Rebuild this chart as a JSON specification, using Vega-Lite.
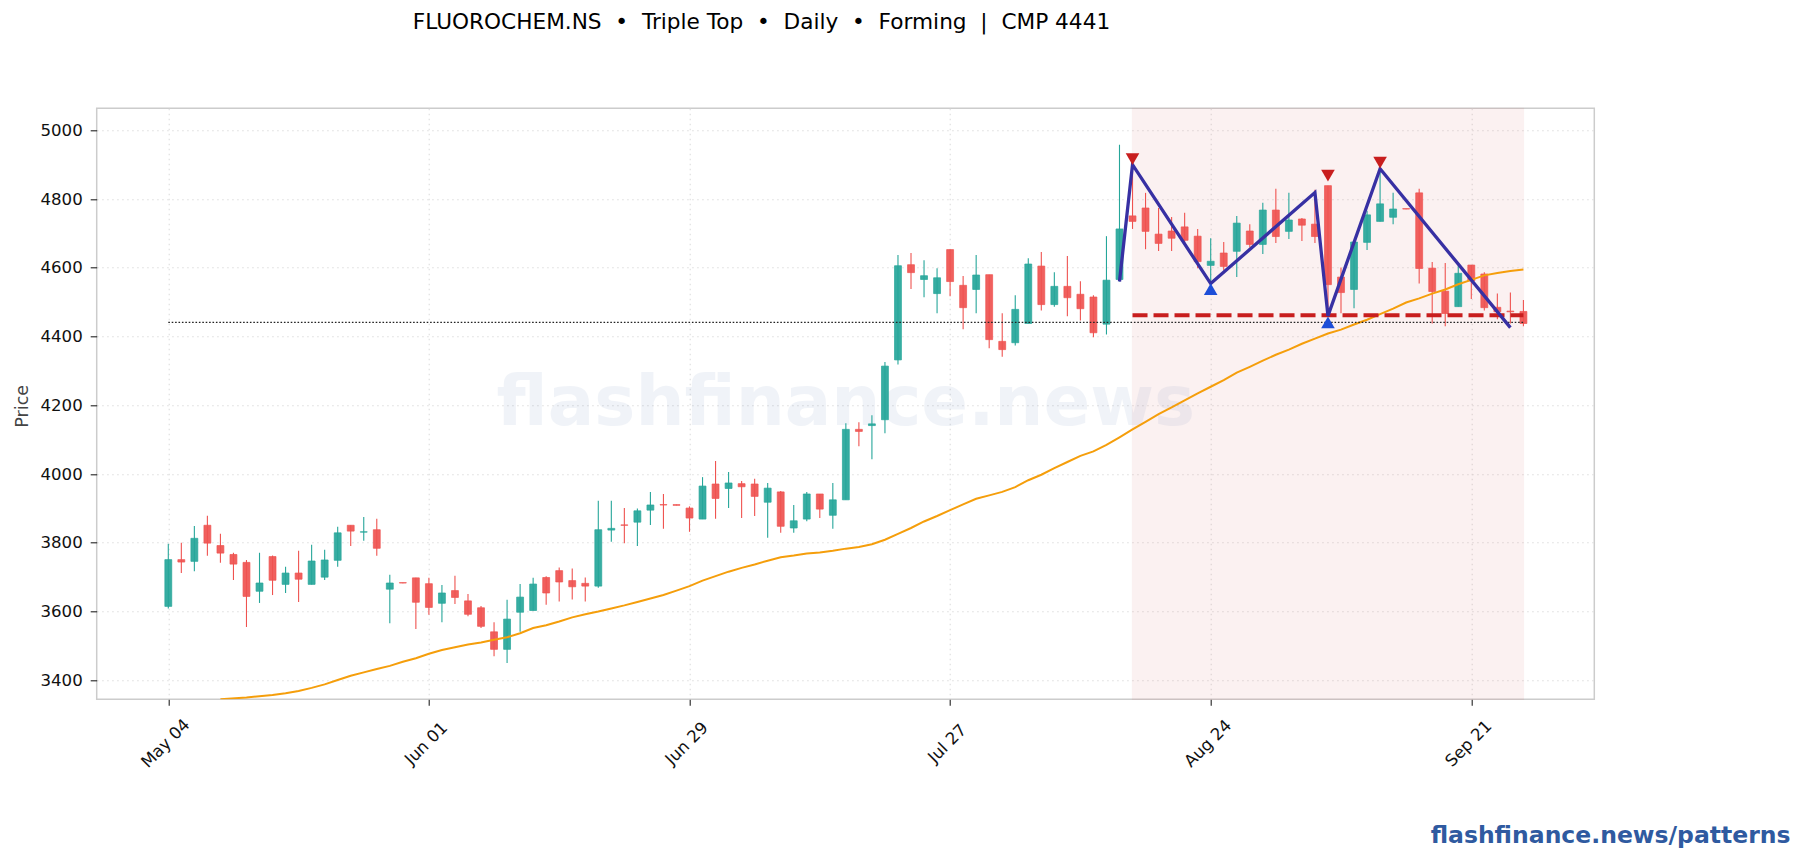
{
"$schema":"https://vega.github.io/schema/vega-lite/v6.json",
"width":1497.6,"height":591,
"autosize":{"type":"none"},
"padding":{"left":96.7,"top":108.3,"right":209.7,"bottom":160.7},
"background":"white",
"title":{"text":"FLUOROCHEM.NS\u00a0\u00a0•\u00a0\u00a0Triple Top\u00a0\u00a0•\u00a0\u00a0Daily\u00a0\u00a0•\u00a0\u00a0Forming\u00a0\u00a0|\u00a0\u00a0CMP 4441","font":"DejaVu Sans","fontSize":21.65,"fontWeight":"normal","color":"#000000","anchor":"start","frame":"group","dx":316,"dy":-57,"baseline":"alphabetic","offset":0},
"config":{"font":"DejaVu Sans","view":{"stroke":"#cccccc","strokeWidth":1.5}},
"datasets":{
"candles":[
{"i":0,"open":3615,"high":3797,"low":3609,"close":3751,"dir":"up"},
{"i":1,"open":3751,"high":3800,"low":3712,"close":3744,"dir":"down"},
{"i":2,"open":3746,"high":3849,"low":3717,"close":3813,"dir":"up"},
{"i":3,"open":3851,"high":3879,"low":3762,"close":3799,"dir":"down"},
{"i":4,"open":3792,"high":3826,"low":3742,"close":3770,"dir":"down"},
{"i":5,"open":3766,"high":3771,"low":3692,"close":3738,"dir":"down"},
{"i":6,"open":3743,"high":3750,"low":3555,"close":3644,"dir":"down"},
{"i":7,"open":3659,"high":3771,"low":3625,"close":3683,"dir":"up"},
{"i":8,"open":3760,"high":3763,"low":3648,"close":3691,"dir":"down"},
{"i":9,"open":3679,"high":3730,"low":3654,"close":3712,"dir":"up"},
{"i":10,"open":3712,"high":3777,"low":3628,"close":3694,"dir":"down"},
{"i":11,"open":3679,"high":3794,"low":3679,"close":3747,"dir":"up"},
{"i":12,"open":3700,"high":3780,"low":3692,"close":3750,"dir":"up"},
{"i":13,"open":3749,"high":3847,"low":3730,"close":3829,"dir":"up"},
{"i":14,"open":3851,"high":3851,"low":3791,"close":3834,"dir":"down"},
{"i":15,"open":3831,"high":3875,"low":3806,"close":3832,"dir":"up"},
{"i":16,"open":3838,"high":3870,"low":3762,"close":3784,"dir":"down"},
{"i":17,"open":3665,"high":3707,"low":3566,"close":3683,"dir":"up"},
{"i":18,"open":3684,"high":3684,"low":3682,"close":3683,"dir":"down"},
{"i":19,"open":3698,"high":3698,"low":3549,"close":3627,"dir":"down"},
{"i":20,"open":3681,"high":3698,"low":3591,"close":3612,"dir":"down"},
{"i":21,"open":3624,"high":3677,"low":3569,"close":3654,"dir":"up"},
{"i":22,"open":3661,"high":3704,"low":3622,"close":3641,"dir":"down"},
{"i":23,"open":3631,"high":3651,"low":3586,"close":3592,"dir":"down"},
{"i":24,"open":3611,"high":3616,"low":3552,"close":3557,"dir":"down"},
{"i":25,"open":3541,"high":3569,"low":3470,"close":3490,"dir":"down"},
{"i":26,"open":3490,"high":3634,"low":3450,"close":3578,"dir":"up"},
{"i":27,"open":3598,"high":3680,"low":3541,"close":3642,"dir":"up"},
{"i":28,"open":3603,"high":3698,"low":3603,"close":3680,"dir":"up"},
{"i":29,"open":3699,"high":3703,"low":3620,"close":3654,"dir":"down"},
{"i":30,"open":3719,"high":3728,"low":3629,"close":3686,"dir":"down"},
{"i":31,"open":3690,"high":3725,"low":3635,"close":3672,"dir":"down"},
{"i":32,"open":3682,"high":3699,"low":3629,"close":3674,"dir":"down"},
{"i":33,"open":3674,"high":3922,"low":3669,"close":3838,"dir":"up"},
{"i":34,"open":3837,"high":3922,"low":3803,"close":3842,"dir":"up"},
{"i":35,"open":3852,"high":3901,"low":3799,"close":3851,"dir":"down"},
{"i":36,"open":3860,"high":3900,"low":3791,"close":3893,"dir":"up"},
{"i":37,"open":3895,"high":3948,"low":3852,"close":3910,"dir":"up"},
{"i":38,"open":3911,"high":3942,"low":3841,"close":3910,"dir":"down"},
{"i":39,"open":3911,"high":3911,"low":3909,"close":3909,"dir":"down"},
{"i":40,"open":3901,"high":3906,"low":3832,"close":3872,"dir":"down"},
{"i":41,"open":3869,"high":3991,"low":3869,"close":3965,"dir":"up"},
{"i":42,"open":3971,"high":4038,"low":3870,"close":3929,"dir":"down"},
{"i":43,"open":3958,"high":4006,"low":3901,"close":3974,"dir":"up"},
{"i":44,"open":3972,"high":3980,"low":3872,"close":3963,"dir":"down"},
{"i":45,"open":3971,"high":3986,"low":3878,"close":3935,"dir":"down"},
{"i":46,"open":3918,"high":3974,"low":3815,"close":3959,"dir":"up"},
{"i":47,"open":3948,"high":3951,"low":3829,"close":3848,"dir":"down"},
{"i":48,"open":3843,"high":3910,"low":3829,"close":3864,"dir":"up"},
{"i":49,"open":3869,"high":3948,"low":3863,"close":3942,"dir":"up"},
{"i":50,"open":3942,"high":3942,"low":3872,"close":3898,"dir":"down"},
{"i":51,"open":3880,"high":3974,"low":3841,"close":3925,"dir":"up"},
{"i":52,"open":3925,"high":4148,"low":3925,"close":4130,"dir":"up"},
{"i":53,"open":4130,"high":4151,"low":4081,"close":4124,"dir":"down"},
{"i":54,"open":4141,"high":4171,"low":4043,"close":4146,"dir":"up"},
{"i":55,"open":4158,"high":4326,"low":4119,"close":4314,"dir":"up"},
{"i":56,"open":4332,"high":4637,"low":4319,"close":4606,"dir":"up"},
{"i":57,"open":4609,"high":4643,"low":4538,"close":4586,"dir":"down"},
{"i":58,"open":4566,"high":4622,"low":4514,"close":4577,"dir":"up"},
{"i":59,"open":4525,"high":4599,"low":4468,"close":4571,"dir":"up"},
{"i":60,"open":4653,"high":4653,"low":4517,"close":4560,"dir":"down"},
{"i":61,"open":4549,"high":4576,"low":4421,"close":4484,"dir":"down"},
{"i":62,"open":4537,"high":4637,"low":4468,"close":4579,"dir":"up"},
{"i":63,"open":4580,"high":4580,"low":4366,"close":4391,"dir":"down"},
{"i":64,"open":4386,"high":4468,"low":4341,"close":4362,"dir":"down"},
{"i":65,"open":4382,"high":4520,"low":4374,"close":4479,"dir":"up"},
{"i":66,"open":4438,"high":4628,"low":4438,"close":4611,"dir":"up"},
{"i":67,"open":4605,"high":4646,"low":4476,"close":4493,"dir":"down"},
{"i":68,"open":4493,"high":4587,"low":4487,"close":4546,"dir":"up"},
{"i":69,"open":4546,"high":4634,"low":4459,"close":4513,"dir":"down"},
{"i":70,"open":4523,"high":4561,"low":4447,"close":4481,"dir":"down"},
{"i":71,"open":4515,"high":4520,"low":4398,"close":4411,"dir":"down"},
{"i":72,"open":4436,"high":4692,"low":4406,"close":4564,"dir":"up"},
{"i":73,"open":4566,"high":4958,"low":4560,"close":4713,"dir":"up"},
{"i":74,"open":4751,"high":4903,"low":4713,"close":4735,"dir":"down"},
{"i":75,"open":4774,"high":4818,"low":4654,"close":4706,"dir":"down"},
{"i":76,"open":4698,"high":4774,"low":4649,"close":4671,"dir":"down"},
{"i":77,"open":4707,"high":4748,"low":4649,"close":4686,"dir":"down"},
{"i":78,"open":4719,"high":4760,"low":4672,"close":4680,"dir":"down"},
{"i":79,"open":4692,"high":4713,"low":4599,"close":4618,"dir":"down"},
{"i":80,"open":4607,"high":4686,"low":4552,"close":4619,"dir":"up"},
{"i":81,"open":4643,"high":4675,"low":4593,"close":4604,"dir":"down"},
{"i":82,"open":4648,"high":4751,"low":4573,"close":4730,"dir":"up"},
{"i":83,"open":4707,"high":4727,"low":4659,"close":4668,"dir":"down"},
{"i":84,"open":4668,"high":4789,"low":4640,"close":4768,"dir":"up"},
{"i":85,"open":4768,"high":4830,"low":4672,"close":4691,"dir":"down"},
{"i":86,"open":4706,"high":4818,"low":4684,"close":4739,"dir":"up"},
{"i":87,"open":4742,"high":4745,"low":4678,"close":4724,"dir":"down"},
{"i":88,"open":4727,"high":4827,"low":4672,"close":4691,"dir":"down"},
{"i":89,"open":4839,"high":4839,"low":4470,"close":4551,"dir":"down"},
{"i":90,"open":4573,"high":4601,"low":4468,"close":4528,"dir":"down"},
{"i":91,"open":4537,"high":4675,"low":4482,"close":4675,"dir":"up"},
{"i":92,"open":4674,"high":4766,"low":4652,"close":4754,"dir":"up"},
{"i":93,"open":4735,"high":4888,"low":4735,"close":4786,"dir":"up"},
{"i":94,"open":4747,"high":4818,"low":4727,"close":4771,"dir":"up"},
{"i":95,"open":4772,"high":4772,"low":4770,"close":4771,"dir":"down"},
{"i":96,"open":4818,"high":4830,"low":4554,"close":4598,"dir":"down"},
{"i":97,"open":4599,"high":4617,"low":4438,"close":4531,"dir":"down"},
{"i":98,"open":4532,"high":4614,"low":4430,"close":4467,"dir":"down"},
{"i":99,"open":4487,"high":4606,"low":4487,"close":4584,"dir":"up"},
{"i":100,"open":4608,"high":4608,"low":4509,"close":4562,"dir":"down"},
{"i":101,"open":4582,"high":4587,"low":4476,"close":4484,"dir":"down"},
{"i":102,"open":4485,"high":4525,"low":4450,"close":4472,"dir":"down"},
{"i":103,"open":4474,"high":4528,"low":4438,"close":4472,"dir":"down"},
{"i":104,"open":4473,"high":4506,"low":4430,"close":4438,"dir":"down"}
],
"ema":[
{"i":4,"ema":3345},{"i":6,"ema":3350},{"i":8,"ema":3357},{"i":9,"ema":3362},{"i":10,"ema":3369},{"i":11,"ema":3378},{"i":12,"ema":3388},{"i":13,"ema":3401},{"i":14,"ema":3413},{"i":15,"ema":3423},{"i":16,"ema":3433},{"i":17,"ema":3442},{"i":18,"ema":3454},{"i":19,"ema":3464},{"i":20,"ema":3477},{"i":21,"ema":3488},{"i":22,"ema":3496},{"i":23,"ema":3504},{"i":24,"ema":3510},{"i":25,"ema":3518},{"i":26,"ema":3525},{"i":27,"ema":3537},{"i":28,"ema":3552},{"i":29,"ema":3560},{"i":30,"ema":3571},{"i":31,"ema":3583},{"i":32,"ema":3592},{"i":33,"ema":3600},{"i":34,"ema":3609},{"i":35,"ema":3618},{"i":36,"ema":3628},{"i":37,"ema":3638},{"i":38,"ema":3648},{"i":39,"ema":3661},{"i":40,"ema":3674},{"i":41,"ema":3690},{"i":42,"ema":3703},{"i":43,"ema":3716},{"i":44,"ema":3727},{"i":45,"ema":3737},{"i":46,"ema":3748},{"i":47,"ema":3758},{"i":48,"ema":3763},{"i":49,"ema":3769},{"i":50,"ema":3772},{"i":51,"ema":3777},{"i":52,"ema":3783},{"i":53,"ema":3788},{"i":54,"ema":3796},{"i":55,"ema":3809},{"i":56,"ema":3826},{"i":57,"ema":3843},{"i":58,"ema":3862},{"i":59,"ema":3878},{"i":60,"ema":3895},{"i":61,"ema":3912},{"i":62,"ema":3928},{"i":63,"ema":3938},{"i":64,"ema":3948},{"i":65,"ema":3962},{"i":66,"ema":3982},{"i":67,"ema":3998},{"i":68,"ema":4017},{"i":69,"ema":4035},{"i":70,"ema":4053},{"i":71,"ema":4066},{"i":72,"ema":4085},{"i":73,"ema":4107},{"i":74,"ema":4130},{"i":75,"ema":4152},{"i":76,"ema":4174},{"i":77,"ema":4194},{"i":78,"ema":4214},{"i":79,"ema":4235},{"i":80,"ema":4254},{"i":81,"ema":4273},{"i":82,"ema":4295},{"i":83,"ema":4312},{"i":84,"ema":4330},{"i":85,"ema":4347},{"i":86,"ema":4362},{"i":87,"ema":4379},{"i":88,"ema":4394},{"i":89,"ema":4409},{"i":90,"ema":4420},{"i":91,"ema":4435},{"i":92,"ema":4449},{"i":93,"ema":4465},{"i":94,"ema":4481},{"i":95,"ema":4499},{"i":96,"ema":4511},{"i":97,"ema":4525},{"i":98,"ema":4537},{"i":99,"ema":4552},{"i":100,"ema":4565},{"i":101,"ema":4578},{"i":102,"ema":4585},{"i":103,"ema":4591},{"i":104,"ema":4595}
],
"pattern":[{"i":73,"price":4560},{"i":74,"price":4900},{"i":80,"price":4554},{"i":88,"price":4819},{"i":89,"price":4460},{"i":93,"price":4888},{"i":103,"price":4426}],
"markers":[{"i":74,"price":4916,"kind":"peak"},{"i":89,"price":4868,"kind":"peak"},{"i":93,"price":4906,"kind":"peak"},{"i":80,"price":4538,"kind":"trough"},{"i":89,"price":4441,"kind":"trough"}],
"zone":[{"start":74,"end":104,"neckline":4462}],
"cmp":[{"start":0,"end":104,"price":4441.5}],
"mark":[{"i":52,"price":4205,"label":"flashfinance.news"}]
},
"layer":[
{"data":{"name":"mark"},"mark":{"type":"text","font":"DejaVu Sans","fontWeight":"bold","fontSize":69,"color":"#2f5aa0","opacity":0.065,"align":"center","baseline":"middle"},
"encoding":{"x":{"field":"i","type":"quantitative","scale":{"domain":[-5.495,109.44],"nice":false,"zero":false,"padding":0},
"axis":{"values":[0,20,40,60,80,100],"labelExpr":"['May 04','Jun 01','Jun 29','Jul 27','Aug 24','Sep 21'][datum.value/20]","labelAngle":-45,"labelAlign":"center","labelBaseline":"middle","labelPadding":38,"labelOffset":-3,"labelFontSize":16.6,"labelColor":"#111111","tickSize":6,"tickColor":"#222222","tickWidth":1.1,"domain":false,"grid":true,"gridColor":"#dddddd","gridDash":[1.5,3.5],"gridWidth":1.1,"labelOverlap":false,"labelBound":false,"labelFlush":false,"title":"flashfinance.news/patterns","titleFont":"DejaVu Sans","titleFontSize":23.5,"titleFontWeight":"bold","titleColor":"#2f5aa0","titleAlign":"right","titleAnchor":"end","titleBaseline":"alphabetic","titleX":1693.3,"titleY":143.4}},
"y":{"field":"price","type":"quantitative","scale":{"domain":[3344.7,5064],"nice":false,"zero":false,"padding":0},
"axis":{"values":[3400,3600,3800,4000,4200,4400,4600,4800,5000],"format":"d","labelFontSize":16.6,"labelColor":"#111111","labelPadding":8,"tickSize":6.5,"tickColor":"#222222","tickWidth":1.1,"domain":false,"grid":true,"gridColor":"#dddddd","gridDash":[1.5,3.5],"gridWidth":1.1,"title":"Price","titleFont":"DejaVu Sans","titleFontSize":17.5,"titleFontWeight":"normal","titleColor":"#444444","titleX":-65,"titleY":297.5}},
"text":{"field":"label","type":"nominal"}}},
{"data":{"name":"zone"},"mark":{"type":"rect","color":"#c81e1e","opacity":0.055,"stroke":"#c81e1e","strokeWidth":1.2},
"encoding":{"x":{"field":"start","type":"quantitative"},"x2":{"field":"end"}}},
{"data":{"name":"candles"},"mark":{"type":"rule","strokeWidth":1.1},
"encoding":{"x":{"field":"i","type":"quantitative"},"y":{"field":"low","type":"quantitative"},"y2":{"field":"high"},
"color":{"field":"dir","type":"nominal","legend":null,"scale":{"domain":["up","down"],"range":["#26a69a","#ef5350"]}}}},
{"data":{"name":"candles"},"mark":{"type":"bar","orient":"vertical","size":6.9,"fillOpacity":0.92,"strokeWidth":0.7},
"encoding":{"x":{"field":"i","type":"quantitative"},"y":{"field":"open","type":"quantitative"},"y2":{"field":"close"},
"color":{"field":"dir","type":"nominal","legend":null,"scale":{"domain":["up","down"],"range":["#26a69a","#ef5350"]}},
"stroke":{"field":"dir","type":"nominal","legend":null,"scale":{"domain":["up","down"],"range":["#26a69a","#ef5350"]}}}},
{"data":{"name":"ema"},"mark":{"type":"line","color":"#f59e0b","strokeWidth":2,"clip":true},
"encoding":{"x":{"field":"i","type":"quantitative"},"y":{"field":"ema","type":"quantitative"}}},
{"data":{"name":"cmp"},"mark":{"type":"rule","color":"#222222","strokeWidth":1.2,"strokeDash":[1.6,1.8]},
"encoding":{"x":{"field":"start","type":"quantitative"},"x2":{"field":"end"},"y":{"field":"price","type":"quantitative"}}},
{"data":{"name":"zone"},"mark":{"type":"rule","color":"#c81e1e","strokeWidth":3.8,"strokeDash":[15,6]},
"encoding":{"x":{"field":"start","type":"quantitative"},"x2":{"field":"end"},"y":{"field":"neckline","type":"quantitative"}}},
{"data":{"name":"pattern"},"mark":{"type":"line","color":"#3730a3","strokeWidth":3.3},
"encoding":{"x":{"field":"i","type":"quantitative"},"y":{"field":"price","type":"quantitative"}}},
{"data":{"name":"markers"},"mark":{"type":"point","filled":true,"size":185,"opacity":1},
"encoding":{"x":{"field":"i","type":"quantitative"},"y":{"field":"price","type":"quantitative"},
"shape":{"field":"kind","type":"nominal","legend":null,"scale":{"domain":["peak","trough"],"range":["triangle-down","triangle-up"]}},
"color":{"field":"kind","type":"nominal","legend":null,"scale":{"domain":["peak","trough"],"range":["#c81e1e","#1d4ed8"]}}}}
],
"resolve":{"scale":{"color":"independent"}}
}
